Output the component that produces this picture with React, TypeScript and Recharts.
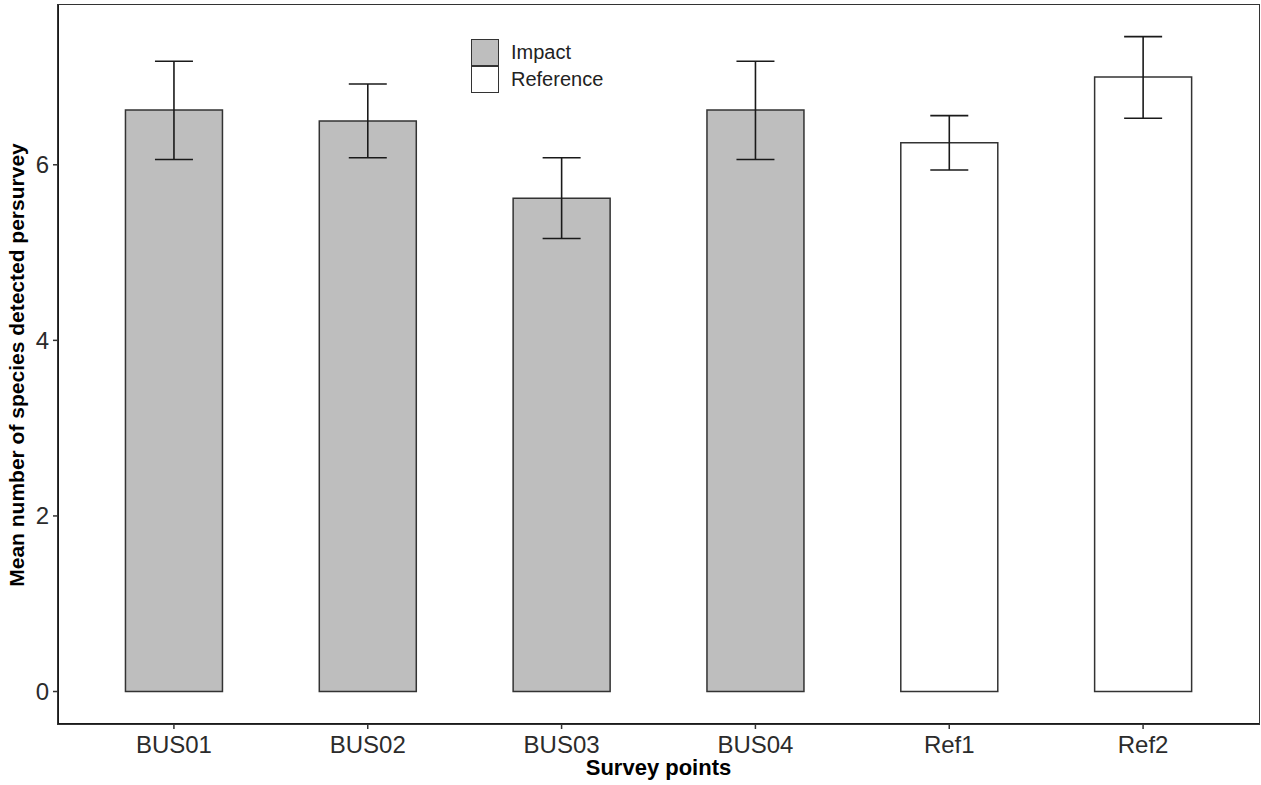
import React from "react";
import {
  BarChart,
  Bar,
  Cell,
  XAxis,
  YAxis,
  ErrorBar,
} from "recharts";

// Survey sites and their mean species counts (with error range)
const sites = ["BUS01", "BUS02", "BUS03", "BUS04", "Ref1", "Ref2"];
const siteGroups = ["Impact", "Impact", "Impact", "Impact", "Reference", "Reference"];
const meanSpecies = [6.625, 6.5, 5.62, 6.625, 6.25, 7.0];
const lowerBound = [6.06, 6.08, 5.16, 6.06, 5.94, 6.53];
const upperBound = [7.18, 6.92, 6.08, 7.18, 6.56, 7.46];
const yTicks = [0, 2, 4, 6];

const legendGroups = ["Impact", "Reference"];
const groupFill: Record<string, string> = {
  Impact: "#bebebe",
  Reference: "#ffffff",
};

const FONT = "'Liberation Sans', Arial, sans-serif";

const chartData = sites.map((site, i) => ({
  site,
  group: siteGroups[i],
  mean: meanSpecies[i],
  err: [meanSpecies[i] - lowerBound[i], upperBound[i] - meanSpecies[i]],
}));

// legend drawn as an overlay so it does not steal plot height
const LegendBox = () => (
  <div
    style={{
      position: "absolute",
      left: 471,
      top: 39,
      fontFamily: FONT,
      pointerEvents: "none",
    }}
  >
    {legendGroups.map((g) => (
      <div
        key={g}
        style={{ display: "flex", alignItems: "center", height: 27 }}
      >
        <div
          style={{
            width: 28,
            height: 27,
            boxSizing: "border-box",
            border: "1.5px solid #333",
            background: groupFill[g],
            marginTop: -1,
          }}
        />
        <span style={{ marginLeft: 12, fontSize: 20, color: "#222" }}>{g}</span>
      </div>
    ))}
  </div>
);

const YTitle = () => (
  <text
    x={24}
    y={365}
    transform="rotate(-90 24 365)"
    textAnchor="middle"
    fontFamily={FONT}
    fontSize={21}
    fontWeight="bold"
    fill="#000"
  >
    Mean number of species detected persurvey
  </text>
);

export default function App() {
  return (
    <div
      style={{
        position: "absolute",
        left: 0,
        top: 0,
        width: 1261,
        height: 785,
        background: "#fff",
        fontFamily: FONT,
      }}
    >
      <BarChart
        width={1261}
        height={785}
        data={chartData}
        margin={{ top: 5, right: 2, left: 0, bottom: 0 }}
        barCategoryGap="25%"
      >
        <XAxis
          dataKey="site"
          height={61}
          padding={{ left: 19, right: 19 }}
          axisLine={{ stroke: "#1a1a1a", strokeWidth: 2 }}
          tickLine={{ stroke: "#333", strokeWidth: 1.5 }}
          tickSize={5}
          tickMargin={7}
          tick={{ fontSize: 24, fill: "#2b2b2b", fontFamily: FONT }}
          label={{
            value: "Survey points",
            position: "insideBottom",
            offset: 10,
            style: {
              fontSize: 22,
              fontWeight: "bold",
              fill: "#000",
              fontFamily: FONT,
            },
          }}
        />
        <YAxis
          width={58}
          type="number"
          domain={[-0.37, 7.82]}
          ticks={yTicks}
          allowDataOverflow
          axisLine={{ stroke: "#1a1a1a", strokeWidth: 2 }}
          tickLine={{ stroke: "#333", strokeWidth: 1.5 }}
          tickSize={5}
          tickMargin={4}
          tick={{ fontSize: 24, fill: "#2b2b2b", fontFamily: FONT }}
          label={<YTitle />}
        />
        <Bar
          dataKey="mean"
          stroke="#333"
          strokeWidth={1.5}
          isAnimationActive={false}
        >
          {chartData.map((d) => (
            <Cell key={d.site} fill={groupFill[d.group]} />
          ))}
          <ErrorBar
            dataKey="err"
            width={19}
            stroke="#1a1a1a"
            strokeWidth={1.6}
            direction="y"
          />
        </Bar>
      </BarChart>
      <LegendBox />
      {/* panel frame (top / right edges) */}
      <div
        style={{
          position: "absolute",
          left: 57,
          top: 4,
          width: 1203,
          height: 721,
          boxSizing: "border-box",
          border: "1.5px solid #333",
          pointerEvents: "none",
        }}
      />
    </div>
  );
}
